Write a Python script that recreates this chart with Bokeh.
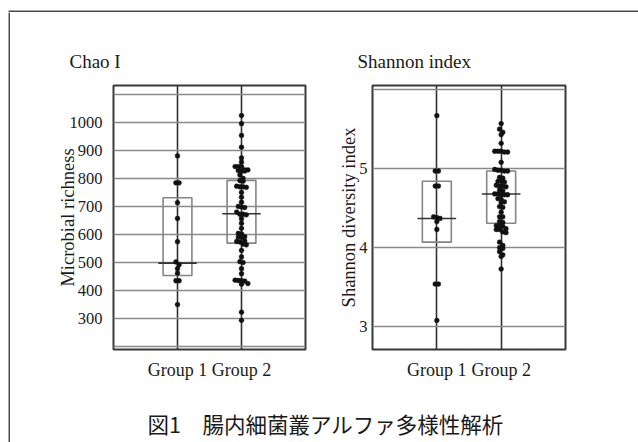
import numpy as np
from bokeh.plotting import figure
from bokeh.layouts import row, column
from bokeh.models import Range1d, FixedTicker, Label, ColumnDataSource, BoxAnnotation
from bokeh.embed import file_html
from bokeh.resources import INLINE

# ---------------- data ----------------
categories = ["Group 1", "Group 2"]

chao_title = "Chao I"
chao_ylabel = "Microbial richness"
chao_g1 = [880, 784, 784, 713, 657, 574, 502, 492, 478, 462, 435, 435, 350]
chao_g2 = [1024, 995, 953, 911, 873, 858, 842, 842, 842, 830, 830, 828, 826, 826,
           812, 800, 792, 790, 772, 770, 770, 768, 750, 733, 715, 700, 698, 696,
           680, 672, 672, 670, 656, 640, 622, 604, 602, 592, 590, 590, 577, 575,
           573, 566, 563, 543, 520, 503, 500, 478, 460, 437, 436, 435, 434, 425,
           423, 323, 294]
chao_box_low = [454, 569]
chao_box_high = [731, 793]
chao_median = [498, 674]
chao_ticks = [300, 400, 500, 600, 700, 800, 900, 1000]
chao_grid = [200, 300, 400, 500, 600, 700, 800, 900, 1000, 1100]
chao_yrange = (190, 1131)

shannon_title = "Shannon index"
shannon_ylabel = "Shannon diversity index"
shannon_g1 = [5.67, 4.97, 4.97, 4.78, 4.78, 4.39, 4.38, 4.37, 4.33, 4.23, 3.54, 3.54, 3.08]
shannon_g2 = [5.57, 5.50, 5.46, 5.43, 5.32, 5.22, 5.22, 5.22, 5.21, 5.21, 5.08, 4.99,
              4.98, 4.98, 4.97, 4.97, 4.89, 4.88, 4.84, 4.84, 4.83, 4.79, 4.78, 4.78,
              4.77, 4.73, 4.72, 4.68, 4.68, 4.67, 4.67, 4.67, 4.62, 4.61, 4.58, 4.57,
              4.52, 4.51, 4.45, 4.39, 4.39, 4.33, 4.32, 4.28, 4.28, 4.27, 4.24, 4.23,
              4.23, 4.20, 4.19, 4.07, 4.03, 4.00, 3.99, 3.95, 3.91, 3.89, 3.73]
shannon_box_low = [4.07, 4.31]
shannon_box_high = [4.84, 4.97]
shannon_median = [4.37, 4.68]
shannon_ticks = [3, 4, 5]
shannon_grid = [3, 4, 5, 6]
shannon_yrange = (2.712, 6.052)

caption = "図1　腸内細菌叢アルファ多様性解析"

# ---------------- style / layout ----------------
SERIF = "Liberation Serif"
LINE = "#4a4a4a"
TOP_H = 12      # band holding the outer frame's top line
LEFT_W = 10     # band holding the outer frame's left line
ROW_H = 384
CAP_H = 46


def dot_offsets(values, bin_size, step):
    v = np.asarray(values, dtype=float)
    order = np.argsort(-v)
    off = np.zeros(len(v))
    rows, cur, start = [], [], None
    for i in order:
        if start is None or start - v[i] > bin_size:
            if cur:
                rows.append(cur)
            cur, start = [i], v[i]
        else:
            cur.append(i)
    if cur:
        rows.append(cur)
    for r in rows:
        n = len(r)
        for j, i in enumerate(r):
            off[i] = (j - (n - 1) / 2) * step
    return off


def band(w, h):
    b = figure(width=w, height=h, x_range=Range1d(0, w), y_range=Range1d(0, h),
               output_backend="svg", toolbar_location=None, min_border=0,
               x_axis_type=None, y_axis_type=None, outline_line_color=None,
               background_fill_color="white", border_fill_color="white")
    b.grid.visible = False
    return b


def make_panel(title, ylabel, groups, low, high, med, yr, ticks, grid, width,
               mbl, mbr, bin_size, title_offset, label_standoff, tick_standoff):
    p = figure(width=width, height=ROW_H, x_range=Range1d(0, 3), y_range=Range1d(*yr),
               output_backend="svg", toolbar_location=None,
               min_border_left=mbl, min_border_right=mbr,
               min_border_top=73, min_border_bottom=47,
               background_fill_color="white", border_fill_color="white",
               outline_line_color="#383838", outline_line_width=2)
    p.title.text = title
    p.title.text_font = SERIF
    p.title.text_font_size = "19px"
    p.title.text_font_style = "normal"
    p.title.text_color = "#1a1a1a"
    p.title.align = "left"
    p.title.offset = title_offset
    p.title.standoff = 28

    pos = [i + 1 for i in range(len(categories))]
    p.xaxis.ticker = FixedTicker(ticks=pos)
    p.xaxis.major_label_overrides = {x: c for x, c in zip(pos, categories)}
    p.yaxis.ticker = FixedTicker(ticks=ticks)
    p.ygrid.ticker = FixedTicker(ticks=grid)
    p.xgrid.ticker = FixedTicker(ticks=pos)

    for ax in (p.xaxis, p.yaxis):
        ax.axis_line_color = None
        ax.major_tick_line_color = None
        ax.minor_tick_line_color = None
        ax.major_tick_out = 0
        ax.major_tick_in = 0
        ax.major_label_text_font = SERIF
        ax.major_label_text_color = "#1a1a1a"
    p.xaxis.major_label_text_font_size = "18px"
    p.xaxis.major_label_standoff = 10
    p.yaxis.major_label_text_font_size = "16.5px"
    p.yaxis.major_label_standoff = tick_standoff
    p.yaxis.axis_label = ylabel
    p.yaxis.axis_label_text_font = SERIF
    p.yaxis.axis_label_text_font_size = "18.5px"
    p.yaxis.axis_label_text_font_style = "normal"
    p.yaxis.axis_label_text_color = "#1a1a1a"
    p.yaxis.axis_label_standoff = label_standoff

    p.ygrid.grid_line_color = "#8a8a8a"
    p.ygrid.grid_line_width = 1.6
    p.xgrid.grid_line_color = "#303030"
    p.xgrid.grid_line_width = 1.6

    # boxes and medians
    src = ColumnDataSource(dict(
        left=[x - 0.225 for x in pos], right=[x + 0.225 for x in pos],
        bottom=low, top=high,
        mx0=[x - 0.3 for x in pos], mx1=[x + 0.3 for x in pos], med=med))
    p.quad(left="left", right="right", bottom="bottom", top="top", source=src,
           fill_color=None, line_color="#858585", line_width=1.6)
    p.segment(x0="mx0", x1="mx1", y0="med", y1="med", source=src,
              line_color="#333333", line_width=1.6)

    # dots
    for x, vals in zip(pos, groups):
        offs = dot_offsets(vals, bin_size, 0.05)
        p.scatter(x=[x + o for o in offs], y=vals, size=4.8,
                  fill_color="#111111", line_color="#111111", line_width=0.5)
    return p


pL = make_panel(chao_title, chao_ylabel, [chao_g1, chao_g2], chao_box_low, chao_box_high,
                chao_median, chao_yrange, chao_ticks, chao_grid, width=317,
                mbl=103, mbr=22, bin_size=13.0, title_offset=-44,
                label_standoff=-11, tick_standoff=11)
pR = make_panel(shannon_title, shannon_ylabel, [shannon_g1, shannon_g2], shannon_box_low,
                shannon_box_high, shannon_median, shannon_yrange, shannon_ticks,
                shannon_grid, width=311, mbl=45, mbr=73, bin_size=0.045,
                title_offset=-15, label_standoff=-3, tick_standoff=5)

cap = band(628, CAP_H)
cap.add_layout(Label(x=315, y=19, text=caption, text_align="center", text_baseline="middle",
                     text_font="Noto Sans CJK JP", text_font_size="21.5px",
                     text_color="#1a1a1a"))

top_band = band(638, TOP_H)
top_band.add_layout(BoxAnnotation(left=8, right=700, bottom=0, top=2,
                                  fill_color=LINE, fill_alpha=1, line_color=None))
left_band = band(LEFT_W, ROW_H + CAP_H)
left_band.add_layout(BoxAnnotation(left=8, right=10, fill_color=LINE, fill_alpha=1,
                                   line_color=None))

layout = column(top_band, row(left_band, column(row(pL, pR), cap)))

open("out.html", "w").write(file_html(layout, INLINE))
